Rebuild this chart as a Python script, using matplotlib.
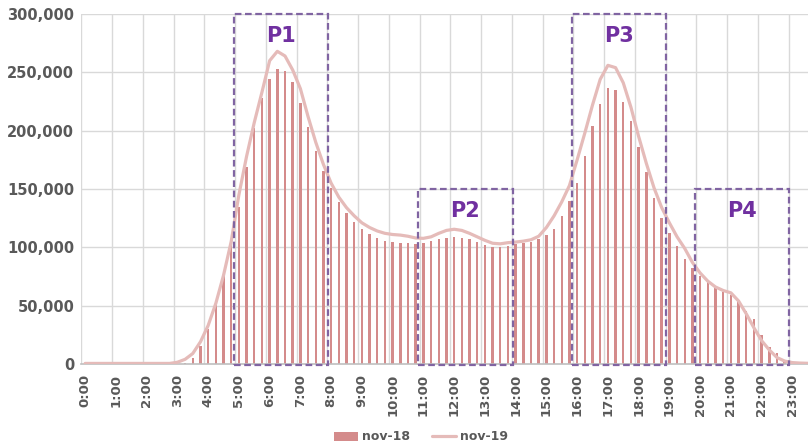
import numpy as np
import matplotlib
matplotlib.use("Agg")
import matplotlib.pyplot as plt
from matplotlib.patches import Rectangle

# franjas de 15 minutos
horas = [f"{h}:{m:02d}" for h in range(24) for m in (0, 15, 30, 45)]

# nov-18 (barras)
nov18 = [0, 0, 0, 0, 0, 0, 0, 0, 0, 0, 0, 0,
         0, 1000, 5500, 15400, 30000, 51400, 76000, 104000,
         135000, 168600, 202000, 227700, 244000, 252500, 251000, 241400,
         224000, 203000, 182600, 165000, 151000, 139000, 129700, 121400,
         115400, 111700, 108000, 105400, 104600, 104000, 104000, 103000,
         104000, 105400, 107000, 108000, 109000, 108300, 107000, 104600,
         101700, 100000, 100000, 101000, 102900, 104000, 104900, 107000,
         110500, 115700, 126500, 140000, 155400, 178600, 203700, 222900,
         236600, 235000, 224900, 208300, 186000, 164300, 142600, 125400,
         112600, 100900, 90300, 82000, 75400, 70000, 65400, 61700,
         59000, 54900, 45400, 38300, 24900, 14900, 9100, 3500,
         1500, 800, 500, 300]

# nov-19 (linea)
nov19 = [500, 500, 500, 500, 500, 500, 500, 500, 500, 500, 500, 500,
         1500, 4000, 9000, 19000, 33000, 52000, 76000, 105000,
         145000, 178000, 207000, 233000, 260000, 268000, 264000, 252000,
         236000, 212000, 190000, 171000, 155000, 143000, 134000, 127000,
         121000, 117000, 114000, 112000, 111000, 110500, 109500, 108000,
         107700, 109000, 112000, 114500, 115500, 114500, 112000, 109000,
         106000, 103500, 103000, 104000, 104500, 105300, 106500, 109500,
         117000, 127000, 139000, 153000, 175000, 198000, 222000, 244000,
         256000, 254000, 241000, 220000, 195000, 172000, 151000, 134000,
         121000, 109000, 99000, 87000, 78000, 71000, 66000, 63000,
         61000, 54000, 43000, 31000, 20000, 12000, 5500, 2500,
         1200, 800, 600, 500]

# ventanas de punta (horas)
picos = ["P1", "P2", "P3", "P4"]
pico_ini = [5, 11, 16, 20]
pico_fin = [8, 14, 19, 23]
pico_tope = [300000, 150000, 300000, 150000]

gris = "#595959"
morado = "#8064A2"

fig = plt.figure(figsize=(8.08, 4.45), dpi=100)
ax = fig.add_axes([81.3/808, 81/445, 738/808, 350/445])

x = np.arange(len(horas))
barras = ax.bar(x, nov18, width=0.32, color="#D48B8B", label="nov-18", zorder=2)
linea, = ax.plot(x, nov19, color="#E5BBB9", lw=2.3, label="nov-19", zorder=3,
                 solid_capstyle="round", solid_joinstyle="round")

ax.set_xlim(-0.5, len(horas) - 0.5)
ax.set_ylim(0, 300000)
ax.set_yticks(np.arange(0, 300001, 50000))
ax.set_yticklabels([f"{v:,}" for v in range(0, 300001, 50000)])
ax.set_xticks(x[::4])
ax.set_xticklabels(horas[::4], rotation=90)

# rejilla
for v in range(50000, 300001, 50000):
    ax.axhline(v, color="#D9D9D9", lw=1, zorder=1)
for h in range(0, 24):
    ax.axvline(4*h - 0.5, color="#D9D9D9", lw=1, zorder=1)

for s in ["top", "right", "left"]:
    ax.spines[s].set_visible(False)
ax.spines["bottom"].set_color("#BFBFBF")
ax.spines["bottom"].set_linewidth(1.2)
ax.tick_params(length=0)
ax.tick_params(axis="y", pad=5, labelsize=10.5, labelcolor=gris)
ax.tick_params(axis="x", pad=7, labelsize=9.5, labelcolor=gris)
for t in ax.get_xticklabels() + ax.get_yticklabels():
    t.set_fontweight("bold")

# recuadros de las puntas
for nom, a, b, tope in zip(picos, pico_ini, pico_fin, pico_tope):
    x0 = 4*a - 0.65
    x1 = 4*b - 0.4
    r = Rectangle((x0, -1000), x1 - x0, tope + 1000, fill=False,
                  edgecolor=morado, lw=1.6, linestyle=(0, (3, 1.6)),
                  zorder=4, clip_on=False)
    ax.add_patch(r)
    ax.text((x0 + x1)/2, tope - 10500, nom, ha="center", va="top",
            fontsize=15, fontweight="bold", color="#7030A0", zorder=5)

leg = fig.legend([barras, linea], ["nov-18", "nov-19"], loc="center",
                 bbox_to_anchor=(421/808, 1 - 437/445),
                 ncol=2, frameon=False, handlelength=1.9, handletextpad=0.3,
                 columnspacing=1.8, prop={"weight": "bold", "size": 9})
for t in leg.get_texts():
    t.set_color(gris)

fig.savefig("out.png", dpi=100)
